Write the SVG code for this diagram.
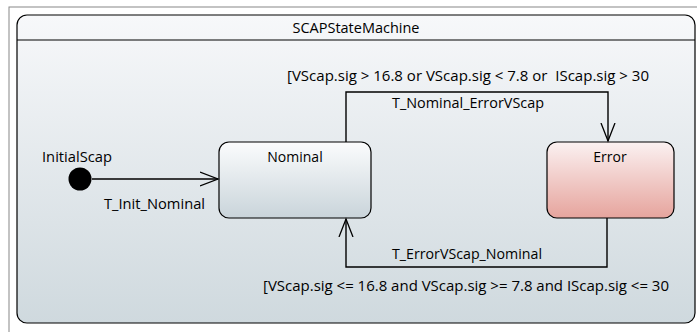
<svg xmlns="http://www.w3.org/2000/svg" width="697" height="332" viewBox="0 0 697 332">
<defs>
<linearGradient id="bg" x1="0" y1="0" x2="0" y2="1">
<stop offset="0" stop-color="#f7f8fa"/>
<stop offset="1" stop-color="#cfd9de"/>
</linearGradient>
<linearGradient id="nom" x1="0" y1="0" x2="0" y2="1">
<stop offset="0" stop-color="#fbfcfd"/>
<stop offset="1" stop-color="#c9d4da"/>
</linearGradient>
<linearGradient id="err" x1="0" y1="0" x2="0" y2="1">
<stop offset="0" stop-color="#fbf1f1"/>
<stop offset="1" stop-color="#e6a49d"/>
</linearGradient>
<marker id="open" markerWidth="20" markerHeight="16" refX="18" refY="8" orient="auto" markerUnits="userSpaceOnUse">
<path d="M0,1 L18,8 L0,15" fill="none" stroke="#000" stroke-width="1.3"/>
</marker>
</defs>
<style>
text{font-family:"Open Sans","Noto Sans","Liberation Sans",sans-serif;font-size:14px;fill:#000}
.lbl{text-anchor:middle}
.edge{fill:none;stroke:#000;stroke-width:1.4}
.state{stroke:#000;stroke-width:1.2}
</style>
<rect x="9" y="7" width="700" height="340" fill="#fff" stroke="#888" stroke-width="1"/>
<g id="SCAPStateMachine">
<rect x="17" y="15" width="678" height="308" rx="10" fill="url(#bg)" stroke="#000" stroke-width="1.2"/>
<line x1="17" y1="40" x2="695" y2="40" stroke="#000" stroke-width="1"/>
<text class="lbl" x="356" y="33" textLength="127" lengthAdjust="spacingAndGlyphs">SCAPStateMachine</text>
</g>
<g id="InitialScap">
<circle cx="80" cy="179" r="11.5" fill="#000"/>
<text class="lbl" x="77" y="162" textLength="70" lengthAdjust="spacingAndGlyphs">InitialScap</text>
</g>
<g id="Nominal">
<rect class="state" x="219" y="142" width="152" height="76" rx="10" fill="url(#nom)"/>
<text class="lbl" x="295" y="162">Nominal</text>
</g>
<g id="Error">
<rect class="state" x="547" y="142" width="127" height="76" rx="10" fill="url(#err)"/>
<text class="lbl" x="610" y="162">Error</text>
</g>
<g id="connectors">
<path class="edge" d="M92,179 L218,179" marker-end="url(#open)"/>
<path class="edge" d="M346,142 L346,92 L608,92 L608,141" marker-end="url(#open)"/>
<path class="edge" d="M607,218 L607,267 L346,267 L346,219" marker-end="url(#open)"/>
<text class="lbl" x="154.5" y="209" textLength="101" lengthAdjust="spacingAndGlyphs">T_Init_Nominal</text>
<text class="lbl" x="468" y="81" textLength="362" lengthAdjust="spacingAndGlyphs" xml:space="preserve">[VScap.sig &gt; 16.8 or VScap.sig &lt; 7.8 or  IScap.sig &gt; 30</text>
<text class="lbl" x="468" y="108" textLength="152" lengthAdjust="spacingAndGlyphs">T_Nominal_ErrorVScap</text>
<text class="lbl" x="467" y="259" textLength="150" lengthAdjust="spacingAndGlyphs">T_ErrorVScap_Nominal</text>
<text class="lbl" x="466" y="291" textLength="406" lengthAdjust="spacingAndGlyphs">[VScap.sig &lt;= 16.8 and VScap.sig &gt;= 7.8 and IScap.sig &lt;= 30</text>
</g>
</svg>
